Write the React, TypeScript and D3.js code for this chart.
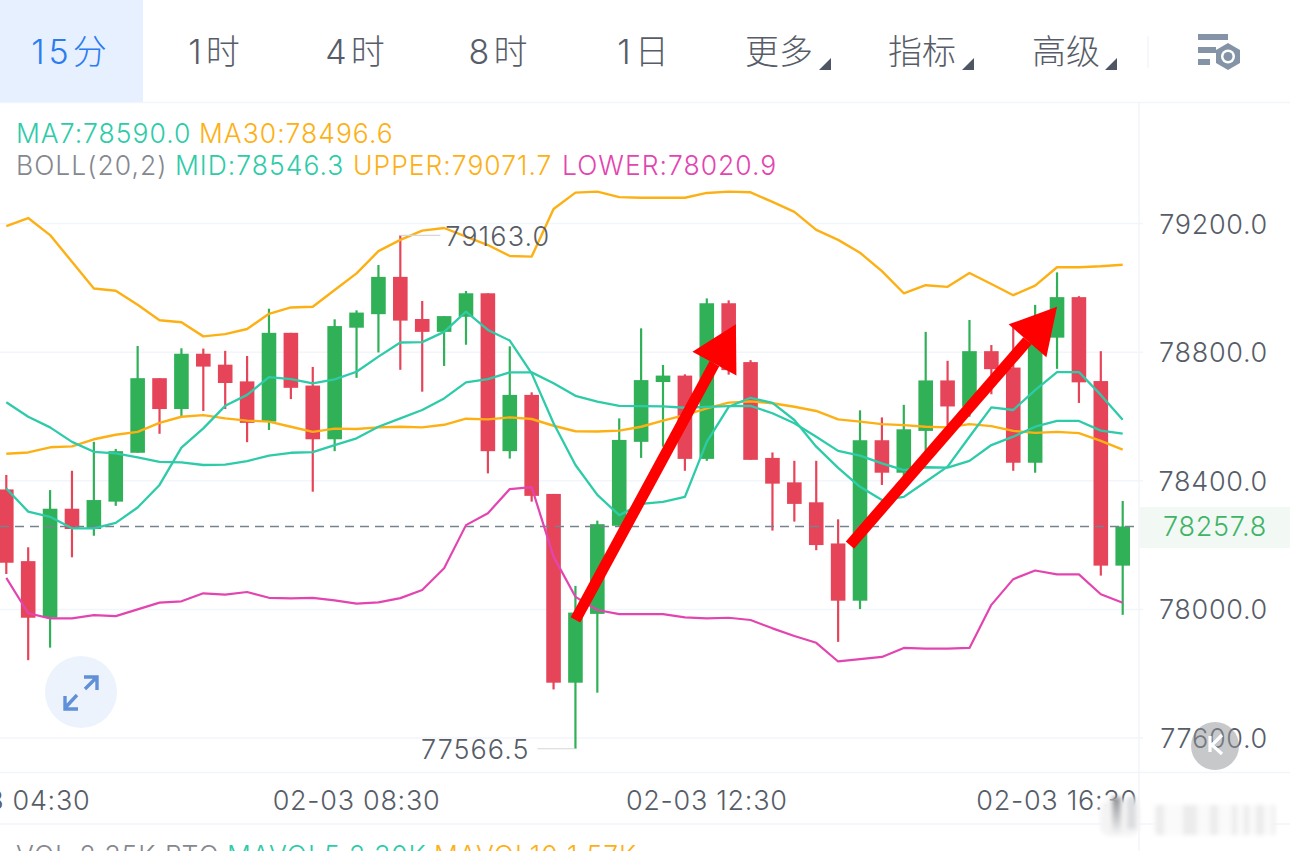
import React, { useEffect, useRef } from 'react';
import * as d3 from 'd3';

const WIDTH = 1290;
const HEIGHT = 851;

// 15 minute candles, 02-03 04:30 onwards
const opens = [78373, 78150, 77974, 78313, 78250, 78335, 78487, 78719, 78623, 78795, 78761, 78709, 78584, 78860, 78696, 78529, 78876, 78918, 79034, 78903, 78863, 78910, 78983, 78492, 78667, 78359, 77772, 77986, 78260, 78521, 78707, 78727, 78468, 78952, 78769, 78471, 78395, 78333, 78205, 78027, 78526, 78425, 78555, 78712, 78630, 78803, 78752, 78456, 78845, 78971, 78710, 78136];
const highs = [78418, 78193, 78371, 78431, 78521, 78499, 78819, 78719, 78812, 78811, 78804, 78788, 78935, 78860, 78754, 78902, 78930, 79071, 79163, 78959, 78912, 78990, 78983, 78818, 78675, 78359, 78073, 78276, 78594, 78874, 78760, 78731, 78967, 78961, 78775, 78488, 78462, 78462, 78280, 78619, 78597, 78636, 78863, 78773, 78900, 78822, 78879, 78947, 79048, 78974, 78803, 78337];
const lows = [78110, 77842, 77881, 78162, 78229, 78322, 78487, 78546, 78599, 78617, 78623, 78520, 78558, 78654, 78366, 78492, 78720, 78799, 78745, 78677, 78757, 78823, 78423, 78469, 78335, 77751, 77566.5, 77741, 78260, 78471, 78506, 78431, 78462, 78730, 78465, 78245, 78273, 78184, 77899, 78001, 78387, 78409, 78486, 78573, 78599, 78669, 78431, 78425, 78748, 78642, 78105, 77983];
const closes = [78145, 77974, 78313, 78250, 78340, 78492, 78719, 78623, 78795, 78755, 78704, 78580, 78860, 78689, 78529, 78881, 78923, 79034, 78898, 78863, 78912, 78983, 78492, 78667, 78353, 77772, 77990, 78265, 78527, 78713, 78727, 78468, 78952, 78744, 78465, 78391, 78328, 78200, 78027, 78526, 78425, 78560, 78712, 78631, 78803, 78747, 78456, 78831, 78971, 78706, 78136, 78257.8];

const ma7 = [78376, 78304, 78288, 78252, 78252, 78269, 78317, 78387, 78503, 78563, 78633, 78667, 78722, 78716, 78703, 78715, 78739, 78786, 78830, 78831, 78863, 78926, 78869, 78836, 78734, 78579, 78449, 78356, 78293, 78328, 78334, 78350, 78521, 78630, 78658, 78642, 78589, 78506, 78440, 78381, 78340, 78350, 78397, 78444, 78537, 78628, 78620, 78682, 78738, 78738, 78667, 78590];
const ma30 = [78484, 78488, 78504, 78507, 78529, 78543, 78552, 78580, 78599, 78604, 78594, 78587, 78584, 78568, 78552, 78562, 78561, 78566, 78568, 78566, 78574, 78593, 78591, 78597, 78592, 78571, 78554, 78553, 78556, 78568, 78587, 78604, 78625, 78643, 78647, 78641, 78630, 78617, 78591, 78584, 78576, 78573, 78568, 78566, 78576, 78570, 78555, 78549, 78552, 78548, 78524, 78496.6];
const bollMid = [78644, 78599, 78566, 78521, 78490, 78485, 78473, 78459, 78457, 78449, 78450, 78461, 78478, 78487, 78489, 78511, 78532, 78568, 78594, 78620, 78656, 78706, 78716, 78737, 78737, 78703, 78664, 78646, 78633, 78632, 78631, 78627, 78630, 78632, 78633, 78610, 78579, 78537, 78493, 78478, 78454, 78433, 78442, 78441, 78462, 78511, 78537, 78568, 78586, 78586, 78556, 78546.3];
const bollUpper = [79192, 79217, 79164, 79081, 78998, 78991, 78947, 78899, 78893, 78849, 78856, 78872, 78919, 78939, 78941, 78993, 79045, 79114, 79149, 79178, 79186, 79159, 79133, 79099, 79097, 79245, 79296, 79299, 79282, 79280, 79280, 79280, 79295, 79299, 79297, 79267, 79236, 79180, 79149, 79109, 79052, 78983, 79008, 79003, 79046, 79012, 78977, 79007, 79064, 79064, 79067, 79071.7];
const bollLower = [78098, 77988, 77972, 77972, 77982, 77979, 78000, 78021, 78025, 78050, 78046, 78054, 78036, 78034, 78036, 78028, 78018, 78022, 78035, 78060, 78128, 78262, 78299, 78374, 78380, 78164, 78039, 77998, 77985, 77985, 77985, 77975, 77972, 77974, 77967, 77941, 77917, 77896, 77838, 77845, 77852, 77880, 77878, 77878, 77880, 78014, 78094, 78121, 78109, 78109, 78047, 78020.9];

const priceTicks = [79200, 78800, 78400, 78000, 77600];
const lastPrice = 78257.8;
const timeTickIndex = [0, 16, 32, 48];
const timeTickLabels = ['02-03 04:30', '02-03 08:30', '02-03 12:30', '02-03 16:30'];

// arrows someone drew on the screenshot: [candle index, price]
const arrowStarts = [[26, 77967], [38.54, 78200]];
const arrowTips = [[33.33, 78887], [48, 78941]];

const tabLabels = ['15分', '1时', '4时', '8时', '1日', '更多', '指标', '高级'];
const tabCenters = [71, 216, 357, 500, 645, 779, 922, 1066];

const GREEN = '#30b158';
const RED = '#e64559';
const TEAL = '#2ecba9';
const ORANGE = '#fdb014';
const PINK = '#e345b0';
const GRID = '#f2f5f9';
const LABEL = '#575d68';
const NUM_FONT = 'Inter, "Noto Sans", sans-serif';
const CJK_FONT = 'Inter, "Noto Sans CJK SC", sans-serif';

const App: React.FC = () => {
  const ref = useRef<SVGSVGElement | null>(null);

  useEffect(() => {
    document.body.style.margin = '0';
    const svg = d3.select(ref.current);
    svg.selectAll('*').remove();

    const x = d3.scaleLinear().domain([0, opens.length - 1]).range([6.3, 1122.7]);
    const y = d3.scaleLinear().domain([79200, 77600]).range([223.5, 738]);

    svg.append('rect').attr('width', WIDTH).attr('height', HEIGHT).attr('fill', '#fff');

    const defs = svg.append('defs');
    defs.append('filter').attr('id', 'wm').attr('x', '-20%').attr('width', '140%')
      .append('feGaussianBlur').attr('stdDeviation', 2.2);
    const fade = defs.append('linearGradient').attr('id', 'wmFade').attr('x1', 0).attr('x2', 0).attr('y1', 0).attr('y2', 1);
    fade.append('stop').attr('offset', 0).attr('stop-color', '#8f9195');
    fade.append('stop').attr('offset', 1).attr('stop-color', '#f0f0f1');

    // frame
    const hline = (yy: number, x2 = WIDTH) =>
      svg.append('line').attr('x1', 0).attr('x2', x2).attr('y1', yy).attr('y2', yy)
        .attr('stroke', GRID).attr('stroke-width', 1.5);
    hline(102.5);
    hline(772.5);
    hline(824);
    svg.append('line').attr('x1', 1139).attr('x2', 1139).attr('y1', 103).attr('y2', HEIGHT)
      .attr('stroke', GRID).attr('stroke-width', 1.5);

    // tabs
    svg.append('rect').attr('width', 143).attr('height', 102).attr('fill', '#e6f0fe');
    svg.append('g').selectAll('text').data(tabLabels).enter().append('text')
      .attr('x', (_d, i) => tabCenters[i])
      .attr('y', 64)
      .attr('text-anchor', 'middle')
      .attr('font-family', CJK_FONT)
      .attr('font-size', 34)
      .attr('font-weight', 300)
      .attr('letter-spacing', (_d, i) => i < 5 ? 4 : 0)
      .attr('fill', (_d, i) => i ? LABEL : '#2a7cf0')
      .text(d => d);
    [819, 962, 1105].forEach(tx => {
      svg.append('path').attr('d', `M${tx + 12} 58V70H${tx}Z`).attr('fill', '#4f5663');
    });
    svg.append('line').attr('x1', 1148).attr('x2', 1148).attr('y1', 36).attr('y2', 68)
      .attr('stroke', GRID).attr('stroke-width', 1.5);

    // settings icon
    const icon = svg.append('g').attr('fill', '#8494a6');
    icon.append('rect').attr('x', 1198).attr('y', 34).attr('width', 30).attr('height', 6);
    icon.append('rect').attr('x', 1198).attr('y', 47).attr('width', 18).attr('height', 6);
    icon.append('rect').attr('x', 1198).attr('y', 59).attr('width', 12).attr('height', 6);
    icon.append('path').attr('d', 'M1228 43L1240 50V63L1228 70L1216 63V50Z');
    svg.append('circle').attr('cx', 1228).attr('cy', 56.5).attr('r', 7).attr('fill', '#fff');
    svg.append('circle').attr('cx', 1228).attr('cy', 56.5).attr('r', 4.5).attr('fill', '#8494a6');

    // legend
    const legend = (tx: number, ty: number, txt: string, fill: string) =>
      svg.append('text').attr('x', tx).attr('y', ty).attr('font-family', NUM_FONT)
        .attr('font-size', 26.5).attr('font-weight', 300).attr('letter-spacing', 1).attr('fill', fill).text(txt);
    legend(16, 143, 'MA7:78590.0', TEAL);
    legend(199, 143, 'MA30:78496.6', ORANGE);
    legend(16, 175, 'BOLL(20,2)', '#85888f');
    legend(175, 175, 'MID:78546.3', TEAL);
    legend(353, 175, 'UPPER:79071.7', ORANGE);
    legend(562, 175, 'LOWER:78020.9', PINK);

    // shared style for the grey numbers
    const num = (sel: any) => sel.attr('font-family', NUM_FONT).attr('font-size', 27)
      .attr('font-weight', 300).attr('letter-spacing', 0.7);

    // price grid and axis
    svg.append('g').selectAll('line').data(priceTicks).enter().append('line')
      .attr('x1', 0).attr('x2', 1143)
      .attr('y1', d => y(d)).attr('y2', d => y(d))
      .attr('stroke', GRID).attr('stroke-width', 1.5);
    svg.append('g').selectAll('text').data(priceTicks).enter().append('text')
      .attr('x', 1268).attr('y', d => y(d)).attr('dy', 10)
      .attr('text-anchor', 'end')
      .call(num)
      .attr('fill', LABEL)
      .text(d => d3.format('.1f')(d));

    // time axis
    svg.append('g').selectAll('text').data(timeTickLabels).enter().append('text')
      .attr('x', (_d, i) => x(timeTickIndex[i]))
      .attr('y', 810)
      .attr('text-anchor', 'middle')
      .call(num)
      .attr('fill', LABEL)
      .text(d => d);

    // last price
    svg.append('rect').attr('x', 1140).attr('y', 507).attr('width', 150).attr('height', 41).attr('fill', '#f2f8f4');
    svg.append('text').attr('x', 1267).attr('y', y(lastPrice)).attr('dy', 10)
      .attr('text-anchor', 'end').call(num)
      .attr('fill', '#3fb467').text(lastPrice.toFixed(1));

    // candles
    const bodyWidth = 14.6;
    const candles = svg.append('g').selectAll('g').data(opens).enter().append('g')
      .attr('fill', (d, i) => closes[i] >= d ? GREEN : RED);
    candles.append('rect')
      .attr('x', (_d, i) => x(i) - 1.1)
      .attr('width', 2.2)
      .attr('y', (_d, i) => y(highs[i]))
      .attr('height', (_d, i) => y(lows[i]) - y(highs[i]));
    candles.append('rect')
      .attr('x', (_d, i) => x(i) - bodyWidth / 2)
      .attr('width', bodyWidth)
      .attr('y', (d, i) => y(Math.max(d, closes[i])))
      .attr('height', (d, i) => Math.abs(y(d) - y(closes[i])));

    // last price dashes sit over the candles
    svg.append('line').attr('x1', 0).attr('x2', 1134).attr('y1', y(lastPrice)).attr('y2', y(lastPrice))
      .attr('stroke', '#77828f').attr('stroke-width', 1.3).attr('stroke-dasharray', '9 6');

    // indicator lines
    const line = d3.line<number>().x((_d, i) => x(i)).y(d => y(d));
    const series: [number[], string, number][] = [
      [bollUpper, ORANGE, 2.4],
      [ma30, ORANGE, 2.4],
      [bollMid, TEAL, 2.3],
      [ma7, TEAL, 2.3],
      [bollLower, PINK, 2.2],
    ];
    series.forEach(([values, color, w]) => {
      svg.append('path').attr('d', line(values)).attr('fill', 'none')
        .attr('stroke', color).attr('stroke-width', w).attr('stroke-linejoin', 'round');
    });

    // high / low marks
    const iHigh = d3.maxIndex(highs);
    const iLow = d3.minIndex(lows);
    svg.append('line').attr('x1', x(iHigh)).attr('x2', x(iHigh) + 40).attr('y1', y(highs[iHigh])).attr('y2', y(highs[iHigh]))
      .attr('stroke', '#d6d6d6').attr('stroke-width', 1.2);
    svg.append('text').attr('x', x(iHigh) + 45).attr('y', y(highs[iHigh])).attr('dy', 11)
      .call(num).attr('letter-spacing', 1.1).attr('fill', LABEL)
      .text(highs[iHigh].toFixed(1));
    svg.append('line').attr('x1', x(iLow) - 38).attr('x2', x(iLow)).attr('y1', y(lows[iLow])).attr('y2', y(lows[iLow]))
      .attr('stroke', '#d6d6d6').attr('stroke-width', 1.2);
    svg.append('text').attr('x', x(iLow) - 46).attr('y', y(lows[iLow])).attr('dy', 10)
      .attr('text-anchor', 'end')
      .call(num).attr('letter-spacing', 1).attr('fill', LABEL)
      .text(lows[iLow].toFixed(1));

    // hand drawn arrows
    arrowStarts.forEach((s, i) => {
      const t = arrowTips[i];
      const x0 = x(s[0]), y0 = y(s[1]), x1 = x(t[0]), y1 = y(t[1]);
      const len = Math.hypot(x1 - x0, y1 - y0);
      const ux = (x1 - x0) / len, uy = (y1 - y0) / len;
      const bx = x1 - ux * 45, by = y1 - uy * 45;
      svg.append('line').attr('x1', x0).attr('y1', y0).attr('x2', bx).attr('y2', by)
        .attr('stroke', '#fe0000').attr('stroke-width', 11);
      svg.append('path')
        .attr('d', `M${x1} ${y1}L${bx - uy * 25} ${by + ux * 25}L${bx + uy * 25} ${by - ux * 25}Z`)
        .attr('fill', '#fe0000');
    });

    // expand button
    svg.append('circle').attr('cx', 81).attr('cy', 692).attr('r', 36).attr('fill', '#edf3fc');
    svg.append('path')
      .attr('d', 'M85 689L97 677M84 677H97V690M77 695L65 708M65 696V709H78')
      .attr('fill', 'none').attr('stroke', '#6090d8').attr('stroke-width', 3.4);

    // volume row, cut off by the window
    const vol = (tx: number, txt: string, fill: string) =>
      svg.append('text').attr('x', tx).attr('y', 865).attr('font-family', NUM_FONT)
        .attr('font-size', 26.5).attr('font-weight', 300).attr('letter-spacing', 1).attr('fill', fill).text(txt);
    vol(16, 'VOL:2.35K BTC', '#85888f');
    vol(227, 'MAVOL5:2.30K', TEAL);
    vol(434, 'MAVOL10:1.57K', ORANGE);

    // K badge
    svg.append('circle').attr('cx', 1215).attr('cy', 746).attr('r', 24).attr('fill', '#8f9196').attr('opacity', 0.5);
    svg.append('path').attr('d', 'M1210 736V752M1222 735L1212 745L1222 754')
      .attr('fill', 'none').attr('stroke', '#fff').attr('stroke-width', 3.2);

    // blurred watermark
    const wm = svg.append('g').attr('filter', 'url(#wm)');
    wm.append('rect').attr('x', 1100).attr('y', 800).attr('width', 40).attr('height', 36).attr('rx', 10).attr('fill', '#f4f4f5');
    wm.append('rect').attr('x', 1112).attr('y', 797).attr('width', 9).attr('height', 36).attr('fill', 'url(#wmFade)');
    wm.append('rect').attr('x', 1127).attr('y', 797).attr('width', 9).attr('height', 32).attr('fill', '#dcdddf');
    wm.append('rect').attr('x', 1153).attr('y', 805).attr('width', 122).attr('height', 30).attr('fill', '#fafafa');
    [[1156, 8], [1183, 14], [1210, 8], [1232, 5], [1244, 5], [1256, 8], [1272, 3]].forEach(([wx, ww]) => {
      wm.append('rect').attr('x', wx).attr('y', 805).attr('width', ww).attr('height', 30).attr('fill', '#ececed');
    });
  }, []);

  return (
    <div style={{ position: 'fixed', left: 0, top: 0, width: WIDTH, height: HEIGHT, overflow: 'hidden' }}>
      <svg ref={ref} width={WIDTH} height={HEIGHT} style={{ display: 'block' }} />
    </div>
  );
};

export default App;
